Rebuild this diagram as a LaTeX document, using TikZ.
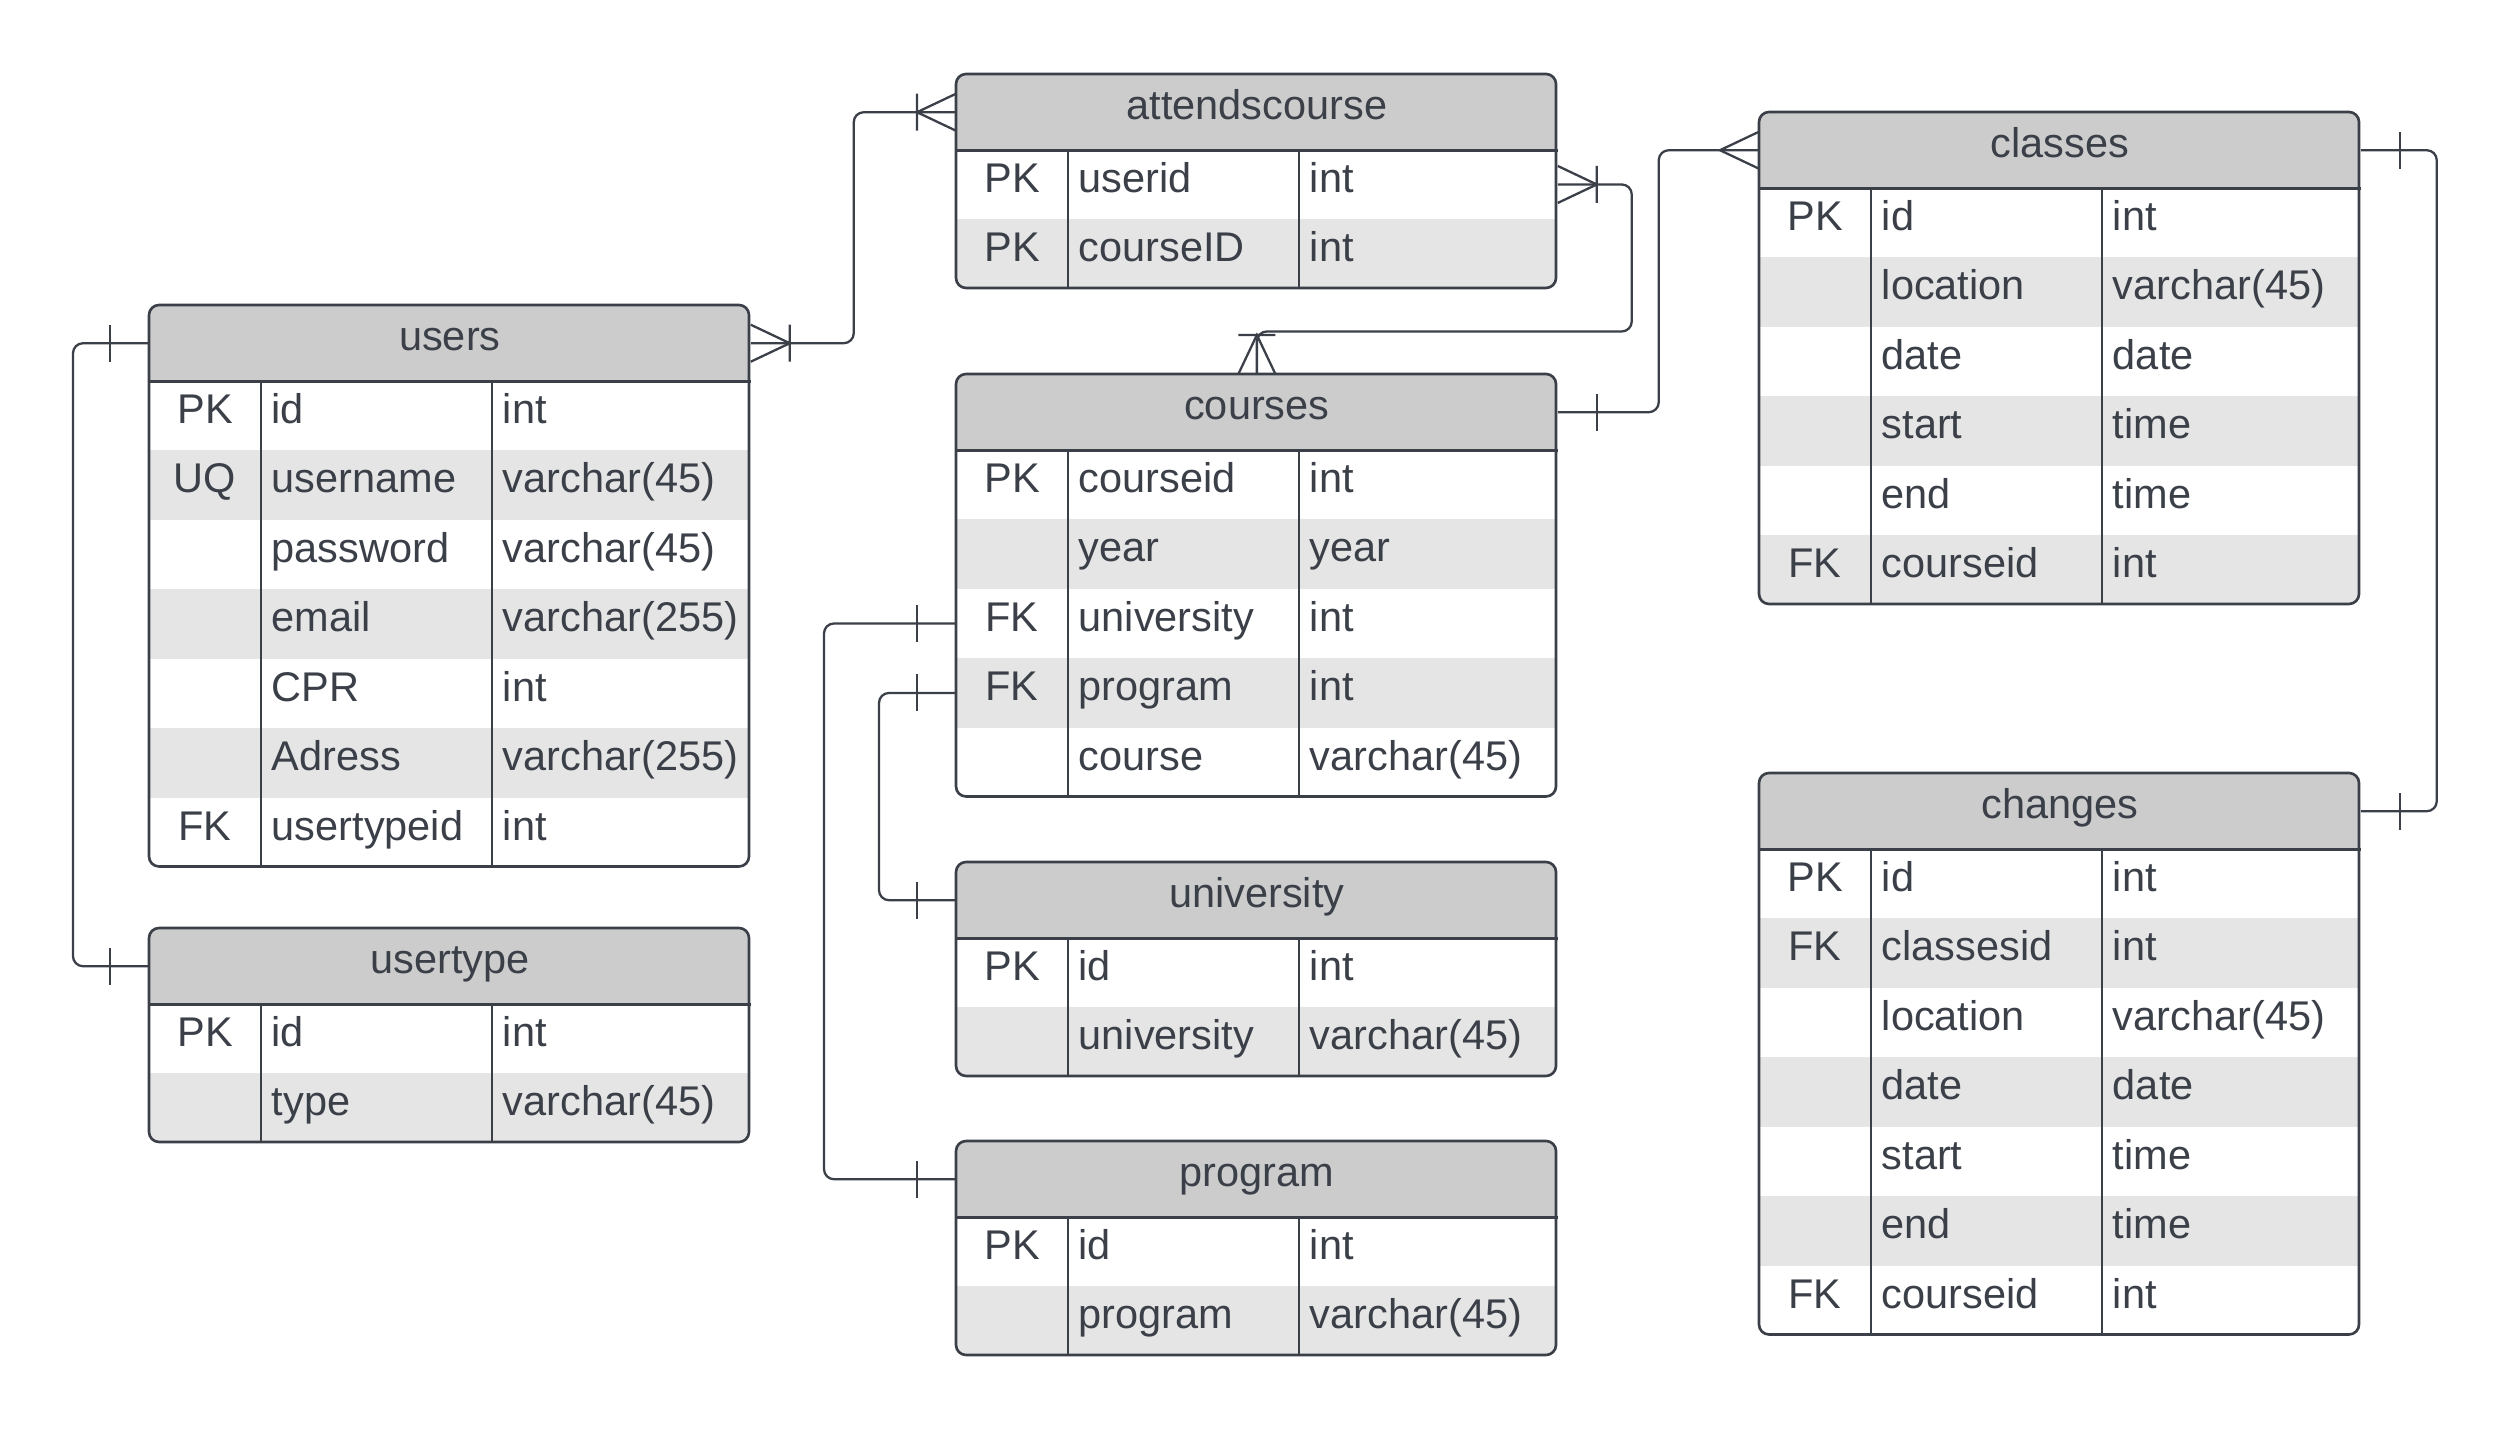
\documentclass[tikz,border=0pt]{standalone}
\usepackage{fontspec}
\setmainfont{Liberation Sans}
\usetikzlibrary{positioning,calc}

\definecolor{ink}{RGB}{58,63,72}
\definecolor{hdrgray}{RGB}{204,204,204}
\definecolor{rowgray}{RGB}{229,229,229}

\newcommand{\entity}[6]{%
  \begin{scope}
    \clip[rounded corners=0.1cm] (#2,#3) rectangle ++(600,{75+69.5*#4});
    \node[hdr] (#1) at (#2,#3) {#5};
    \foreach [count=\i] \fkey/\fname/\ftype in {#6} {
      \pgfmathsetmacro{\rowy}{#3+75+69.5*(\i-1)}
      \ifodd\i\relax\def\rowfill{white}\else\def\rowfill{rowgray}\fi
      \node[fieldrow,fill=\rowfill] (#1-\i) at (#2,\rowy) {};
      \node[fieldtxt,anchor=center] at ([xshift=0.56cm]#1-\i.west) {\fkey};
      \node[fieldtxt] at ([xshift=1.22cm]#1-\i.west) {\fname};
      \node[fieldtxt] at ([xshift=3.53cm]#1-\i.west) {\ftype};
    }
  \end{scope}
  \draw[colline] ([xshift=1.12cm]#1.south west) -- ++(0,{69.5*#4});
  \draw[colline] ([xshift=3.43cm]#1.south west) -- ++(0,{69.5*#4});
  \draw[hdrline] (#1.south west) -- (#1.south east);
  \draw[tblline] (#2,#3) rectangle ++(600,{75+69.5*#4});
}

\begin{document}
\begin{tikzpicture}[x=0.01cm,y=-0.01cm,
    txt/.style={font=\fontsize{11.8}{14}\selectfont,text=ink},
    hdr/.style={txt,anchor=north west,minimum width=6cm,minimum height=0.75cm,
      inner sep=0pt,fill=hdrgray,text height=0.3cm,text depth=0.15cm},
    fieldrow/.style={anchor=north west,minimum width=6cm,minimum height=0.695cm,inner sep=0pt},
    fieldtxt/.style={txt,anchor=west,inner sep=0pt,text height=0.31cm,text depth=0.155cm},
    tblline/.style={draw=ink,line width=0.75pt,rounded corners=0.1cm},
    hdrline/.style={draw=ink,line width=1pt},
    colline/.style={draw=ink,line width=0.55pt},
    link/.style={draw=ink,line width=0.65pt,rounded corners=0.1cm},
    tip/.style={draw=ink,line width=0.65pt,sharp corners},
    onemany/.pic={\draw[tip] (0,18.5) -- (39,0) -- (0,-18.5) (39,18.5) -- (39,-18.5);},
    many/.pic={\draw[tip] (0,18.5) -- (39,0) -- (0,-18.5);},
    one/.pic={\draw[tip] (39,18.5) -- (39,-18.5);}]
  \useasboundingbox (0,0) rectangle (2514,1431);

  \entity{users}{149}{305}{7}{users}{PK/id/int, UQ/username/varchar(45), /password/varchar(45),
    /email/varchar(255), /CPR/int, /Adress/varchar(255), FK/usertypeid/int}
  \entity{usertype}{149}{928}{2}{usertype}{PK/id/int, /type/varchar(45)}
  \entity{attendscourse}{956}{74}{2}{attendscourse}{PK/userid/int, PK/courseID/int}
  \entity{courses}{956}{374}{5}{courses}{PK/courseid/int, /year/year, FK/university/int,
    FK/program/int, /course/varchar(45)}
  \entity{university}{956}{862}{2}{university}{PK/id/int, /university/varchar(45)}
  \entity{program}{956}{1141}{2}{program}{PK/id/int, /program/varchar(45)}
  \entity{classes}{1759}{112}{6}{classes}{PK/id/int, /location/varchar(45), /date/date,
    /start/time, /end/time, FK/courseid/int}
  \entity{changes}{1759}{773}{7}{changes}{PK/id/int, FK/classesid/int, /location/varchar(45),
    /date/date, /start/time, /end/time, FK/courseid/int}

  \draw[link] (users.east) -- ++(103,0) |- (attendscourse.west);
  \pic at (users.east) {onemany};
  \pic[rotate=180] at (attendscourse.west) {onemany};

  \draw[link] (attendscourse-1.east) -- ++(74,0) -- ++(0,147) -| (courses.north);
  \pic at (attendscourse-1.east) {onemany};
  \pic[rotate=90] at (courses.north) {onemany};

  \draw[link] (courses.east) -- ++(101,0) |- (classes.west);
  \pic at (courses.east) {one};
  \pic[rotate=180] at (classes.west) {many};

  \draw[link] (classes.east) -- ++(76,0) |- (changes.east);
  \pic at (classes.east) {one};
  \pic at (changes.east) {one};

  \draw[link] (users.west) -- ++(-76,0) |- (usertype.west);
  \pic[rotate=180] at (users.west) {one};
  \pic[rotate=180] at (usertype.west) {one};

  \draw[link] (courses-3.west) -- ++(-132,0) |- (program.west);
  \pic[rotate=180] at (courses-3.west) {one};
  \pic[rotate=180] at (program.west) {one};

  \draw[link] (courses-4.west) -- ++(-77,0) |- (university.west);
  \pic[rotate=180] at (courses-4.west) {one};
  \pic[rotate=180] at (university.west) {one};
\end{tikzpicture}
\end{document}
